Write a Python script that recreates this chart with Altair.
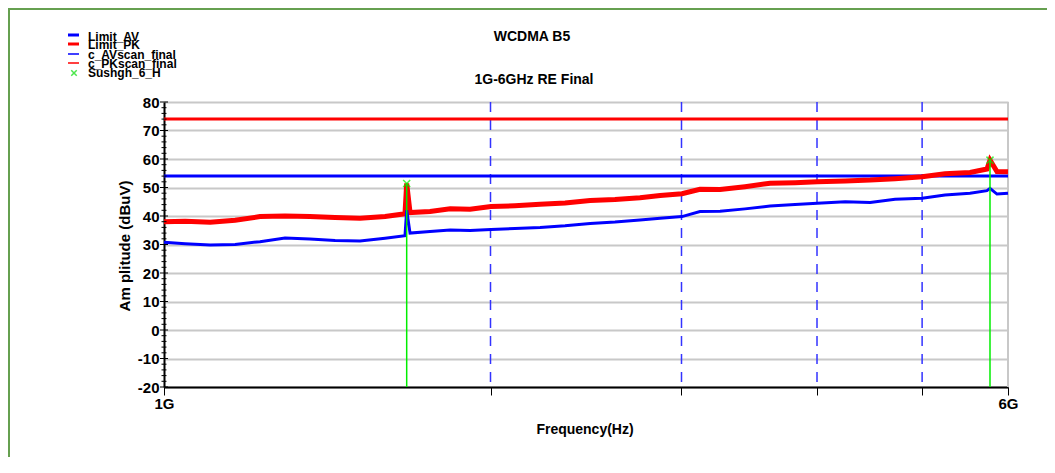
import altair as alt
import pandas as pd

# ---------------- data ----------------
freq_ghz = [1.000, 1.046, 1.103, 1.163, 1.226, 1.293, 1.363, 1.438, 1.516, 1.599,
            1.668, 1.674, 1.686, 1.759, 1.836, 1.915, 2.002, 2.106, 2.222, 2.343,
            2.471, 2.605, 2.747, 2.867, 3.003, 3.120, 3.256, 3.433, 3.621, 3.818,
            4.002, 4.247, 4.478, 4.721, 5.000, 5.249, 5.535, 5.738, 5.775, 5.861, 6.000]
pk_scan = [38.0, 38.2, 37.8, 38.5, 39.8, 40.0, 39.8, 39.5, 39.2, 39.8,
           40.8, 51.4, 41.2, 41.6, 42.5, 42.4, 43.3, 43.6, 44.1, 44.6,
           45.4, 45.8, 46.4, 47.2, 47.8, 49.4, 49.3, 50.3, 51.5, 51.7,
           52.0, 52.3, 52.6, 53.1, 53.8, 54.8, 55.3, 56.5, 59.6, 55.6, 55.5]
av_scan = [30.8, 30.3, 29.8, 30.0, 31.0, 32.3, 31.9, 31.4, 31.2, 32.2,
           33.1, 42.0, 34.0, 34.6, 35.1, 34.9, 35.3, 35.6, 36.0, 36.6,
           37.4, 37.9, 38.6, 39.2, 39.8, 41.6, 41.7, 42.5, 43.5, 44.0,
           44.5, 45.0, 44.7, 45.9, 46.2, 47.4, 48.0, 48.9, 49.7, 47.7, 48.0]

limit_freq = [1.0, 6.0]
limit_av = [54, 54]
limit_pk = [74, 74]

marker_freq = [1.674, 5.775]
marker_val = [51.4, 59.6]

grid_freq = [2, 3, 4, 5]
x_axis_values = [1, 2, 3, 4, 5, 6]
y_major = list(range(-20, 81, 10))
y_minor = [v for v in range(-20, 81, 2) if v % 10 != 0]

legend_labels = ["Limit_AV", "Limit_PK", "c_AVscan_final", "c_PKscan_final", "Sushgh_6_H"]
legend_colors = ["#0000ff", "#ff0000", "#0000ff", "#ff0000", "#00dd00"]

title_main = "WCDMA B5"
title_sub = "1G-6GHz RE Final"
x_title = "Frequency(Hz)"
y_title = "Am plitude (dBuV)"

FONT = "Liberation Sans Narrow, Arial Narrow, Liberation Sans, Arial, sans-serif"

# ---------------- tables ----------------
scan = pd.DataFrame({"f": freq_ghz, "pk": pk_scan, "av": av_scan})
lim = pd.DataFrame({"f": limit_freq, "av": limit_av, "pk": limit_pk})
mk = pd.DataFrame({"f": marker_freq, "v": marker_val, "base": [-20, -20]})
grid = pd.DataFrame({"f": grid_freq})
ymaj = pd.DataFrame({"y": y_major})
ymin = pd.DataFrame({"y": y_minor})
one = pd.DataFrame({"a": [0]})

W, H = 844, 285
xs = alt.Scale(type="log", domain=[1, 6], nice=False)
ys = alt.Scale(domain=[-20, 80], nice=False)

x_axis = alt.Axis(
    values=x_axis_values, grid=False, title=None,
    labelExpr="datum.value == 1 ? '1G' : (datum.value == 6 ? '6G' : '')",
    tickSize=8, tickColor="black", tickWidth=1,
    domainColor="black", domainWidth=2,
    labelFont=FONT, labelFontSize=15, labelFontWeight="bold", labelColor="black",
    labelPadding=1, labelFlush=False, labelOverlap=False)
y_axis = alt.Axis(
    values=y_major, grid=True, gridColor="#c8c8c8", gridWidth=2,
    ticks=False, domainColor="black", domainWidth=2, title=None,
    labelExpr="'' + datum.value", labelOverlap=False,
    labelFont=FONT, labelFontSize=15, labelFontWeight="bold", labelColor="black",
    labelPadding=5)

X = alt.X("f:Q", scale=xs, axis=x_axis)
Xn = alt.X("f:Q", scale=xs, axis=None)

def Y(field):
    return alt.Y(field, scale=ys, axis=y_axis)

def Yn(field):
    return alt.Y(field, scale=ys, axis=None)

dashed = alt.Chart(grid).mark_rule(color="#3333ff", strokeWidth=1.5, strokeDash=[10, 8]).encode(
    x=X, y=alt.value(0), y2=alt.value(H))

right_border = alt.Chart(one).mark_rule(color="#c8c8c8", strokeWidth=2).encode(
    x=alt.value(W), y=alt.value(0), y2=alt.value(H))

lim_av = alt.Chart(lim).mark_line(color="#0000ff", strokeWidth=3).encode(x=X, y=Y("av:Q"))
lim_pk = alt.Chart(lim).mark_line(color="#ff0000", strokeWidth=3).encode(x=X, y=Y("pk:Q"))
pk_line = alt.Chart(scan).mark_line(color="#ff0000", strokeWidth=5).encode(x=X, y=Y("pk:Q"))
av_line = alt.Chart(scan).mark_line(color="#0000ff", strokeWidth=3).encode(x=X, y=Y("av:Q"))

mk_rule = alt.Chart(mk).mark_rule(color="#00ee00", strokeWidth=1.5).encode(
    x=X, y=Y("v:Q"), y2="base:Q")
mk_pt = alt.Chart(mk).mark_point(shape="M-1,-1L1,1M-1,1L1,-1", filled=False,
                                 color="#00ee00", strokeWidth=1.5, size=50).encode(
    x=X, y=Y("v:Q"))

ymaj_t = alt.Chart(ymaj).mark_rule(color="black", strokeWidth=1).encode(
    y=Y("y:Q"), x=alt.value(-4), x2=alt.value(4))
ymin_t = alt.Chart(ymin).mark_rule(color="black", strokeWidth=1).encode(
    y=Y("y:Q"), x=alt.value(-2.5), x2=alt.value(2.5))

# legend (drawn manually in the top-left corner)
leg = pd.DataFrame({
    "label": legend_labels, "color": legend_colors,
    "ly": [-67, -58, -48, -39, -29],
    "ty": [-65, -57, -47, -38, -29],
    "sw": [3, 3, 1.5, 1.5, 0],
})
leg_lines = alt.Chart(leg.iloc[:4]).mark_rule().encode(
    x=alt.value(-96), x2=alt.value(-85), y=alt.Y("ly:Q", scale=None, axis=None),
    color=alt.Color("color:N", scale=None), strokeWidth=alt.StrokeWidth("sw:Q", scale=None))
leg_x = alt.Chart(leg.iloc[4:]).mark_point(shape="M-1,-1L1,1M-1,1L1,-1", filled=False,
                                           strokeWidth=1.5, size=30).encode(
    x=alt.value(-90), y=alt.Y("ly:Q", scale=None, axis=None),
    color=alt.Color("color:N", scale=None))
leg_text = alt.Chart(leg).mark_text(align="left", baseline="middle", font=FONT,
                                    fontSize=12, fontWeight="bold", color="black").encode(
    x=alt.value(-76), y=alt.Y("ty:Q", scale=None, axis=None), text="label:N")

texts = pd.DataFrame({
    "t": [title_main, title_sub, x_title],
    "x": [368, 370, 421], "y": [-65, -22, 328],
})
title_txt = alt.Chart(texts).mark_text(align="center", baseline="middle", font=FONT,
                                       fontSize=14, fontWeight="bold", color="black").encode(
    x=alt.X("x:Q", scale=None, axis=None), y=alt.Y("y:Q", scale=None, axis=None), text="t:N")
ytitle = alt.Chart(pd.DataFrame({"t": [y_title]})).mark_text(
    align="center", baseline="middle", angle=270, font="Liberation Sans, Arial, sans-serif",
    fontSize=15, fontWeight="bold", color="black").encode(
    x=alt.value(-39), y=alt.value(144), text="t:N")

frame_top = alt.Chart(one).mark_rule(color="#66a050", strokeWidth=2).encode(
    x=alt.value(-156), x2=alt.value(W + 40), y=alt.value(-93))
frame_left = alt.Chart(one).mark_rule(color="#66a050", strokeWidth=2).encode(
    x=alt.value(-155), y=alt.value(-94), y2=alt.value(H + 75))

chart = alt.layer(
    dashed, right_border, lim_av, lim_pk, pk_line, av_line, mk_rule, mk_pt,
    ymaj_t, ymin_t, leg_lines, leg_x, leg_text, title_txt, ytitle, frame_top, frame_left,
).properties(
    width=W, height=H,
    padding={"left": 156, "top": 94, "right": 39, "bottom": 70},
    autosize=alt.AutoSizeParams(type="none"),
).configure_view(stroke=None)

chart.save("out.html", embed_options={"renderer": "svg", "actions": False})
